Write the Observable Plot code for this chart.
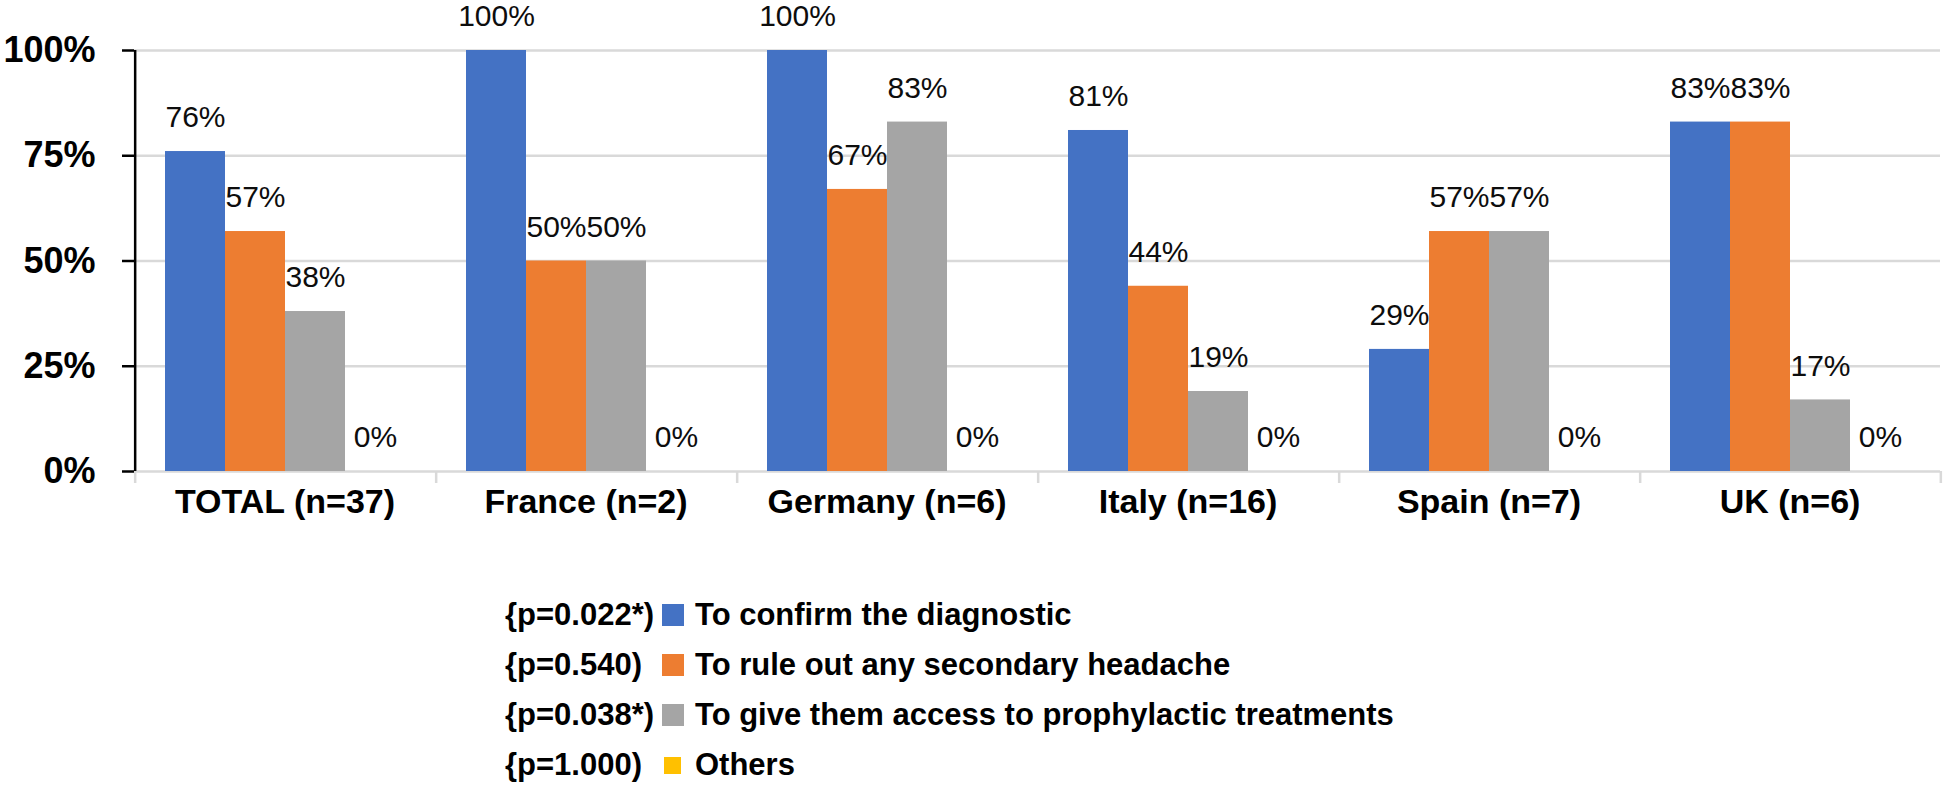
<!DOCTYPE html>
<html>
<head>
<meta charset="utf-8">
<script src="https://cdn.jsdelivr.net/npm/d3@7"></script>
<script src="https://cdn.jsdelivr.net/npm/@observablehq/plot@0.6"></script>
<style>
  body { margin: 0; background: #fff; font-family: "Liberation Sans", Arial, sans-serif; }
  #chart { width: 1946px; height: 590px; }
  #chart svg { overflow: visible; }
  #legend { margin-left: 505px; }
  .row { height: 50px; display: flex; align-items: center; font-size: 31px; font-weight: bold; color: #000; }
  .p { width: 157px; white-space: nowrap; }
  .sw { width: 22px; height: 22px; margin-right: 11px; }
  .sw.small { width: 17px; height: 17px; margin-left: 2px; margin-right: 14px; }
</style>
</head>
<body>
<div id="chart"></div>
<div id="legend"></div>
<script>
const countries = ["TOTAL (n=37)", "France (n=2)", "Germany (n=6)", "Italy (n=16)", "Spain (n=7)", "UK (n=6)"];
const series = ["To confirm the diagnostic", "To rule out any secondary headache", "To give them access to prophylactic treatments", "Others"];
const pValues = ["{p=0.022*)", "{p=0.540)", "{p=0.038*)", "{p=1.000)"];
const confirmDiagnostic = [76, 100, 100, 81, 29, 83];
const ruleOutSecondary = [57, 50, 67, 44, 57, 83];
const prophylacticAccess = [38, 50, 83, 19, 57, 17];
const others = [0, 0, 0, 0, 0, 0];
const yTicks = [0, 25, 50, 75, 100];
const colors = ["#4472C4", "#ED7D31", "#A5A5A5", "#FFC000"];

const seriesValues = [confirmDiagnostic, ruleOutSecondary, prophylacticAccess, others];
const rows = countries.flatMap((c, i) => series.map((s, j) => ({country: c, series: s, value: seriesValues[j][i]})));

const W = 1946, H = 590, mL = 132, mR = 4, mT = 50, mB = 119;
const facetStep = (W - mL - mR) / countries.length;
const xPadOuter = 0.5;
const bandStep = facetStep / (series.length + 2 * xPadOuter);
const gridColor = "#d9d9d9";

const chart = Plot.plot({
  width: W, height: H,
  marginLeft: mL, marginRight: mR, marginTop: mT, marginBottom: mB,
  style: {fontFamily: "Liberation Sans, Arial, sans-serif", background: "#fff", overflow: "visible"},
  fx: {domain: countries, padding: 0, label: null},
  x: {domain: series, paddingInner: 0, paddingOuter: xPadOuter, axis: null},
  y: {domain: [0, 100], axis: null, label: null},
  color: {domain: series, range: colors},
  marks: [
    Plot.ruleY(yTicks, {stroke: gridColor, strokeWidth: 2.5}),
    // group separator ticks below baseline (left edge of each group)
    Plot.ruleX([series[0]], {x: d => d, y1: 0, y2: 0, insetBottom: -12, dx: -bandStep, stroke: gridColor, strokeWidth: 2.5}),
    Plot.ruleX([countries[countries.length - 1]], {fx: d => d, x: () => series[series.length - 1], y1: 0, y2: 0, insetBottom: -12, dx: bandStep, stroke: gridColor, strokeWidth: 2.5}),
    Plot.barY(rows, {fx: "country", x: "series", y: "value", fill: "series"}),
    Plot.text(rows, {fx: "country", x: "series", y: "value", text: d => d.value + "%", dy: -34, fontSize: 30, fill: "#0d0d0d"}),
    // y axis line
    Plot.ruleX([countries[0]], {fx: d => d, x: () => series[0], y1: 0, y2: 100, dx: -bandStep, stroke: "#000", strokeWidth: 2.5}),
    Plot.axisY(yTicks, {anchor: "left", label: null, tickSize: 12, tickPadding: 27, tickFormat: d => d + "%", fontSize: 36, fontWeight: "bold", stroke: "#000", strokeWidth: 2.5, fill: "#000"}),
    Plot.axisFx({anchor: "bottom", label: null, tickSize: 0, tickPadding: 17, fontSize: 34, fontWeight: "bold", fill: "#000"})
  ]
});
document.getElementById("chart").appendChild(chart);

const legend = document.getElementById("legend");
series.forEach((s, i) => {
  const row = document.createElement("div");
  row.className = "row";
  const p = document.createElement("span");
  p.className = "p";
  p.textContent = pValues[i];
  const sw = document.createElement("span");
  sw.className = "sw" + (i === series.length - 1 ? " small" : "");
  sw.style.background = colors[i];
  const lab = document.createElement("span");
  lab.textContent = s;
  row.append(p, sw, lab);
  legend.appendChild(row);
});
</script>
</body>
</html>
